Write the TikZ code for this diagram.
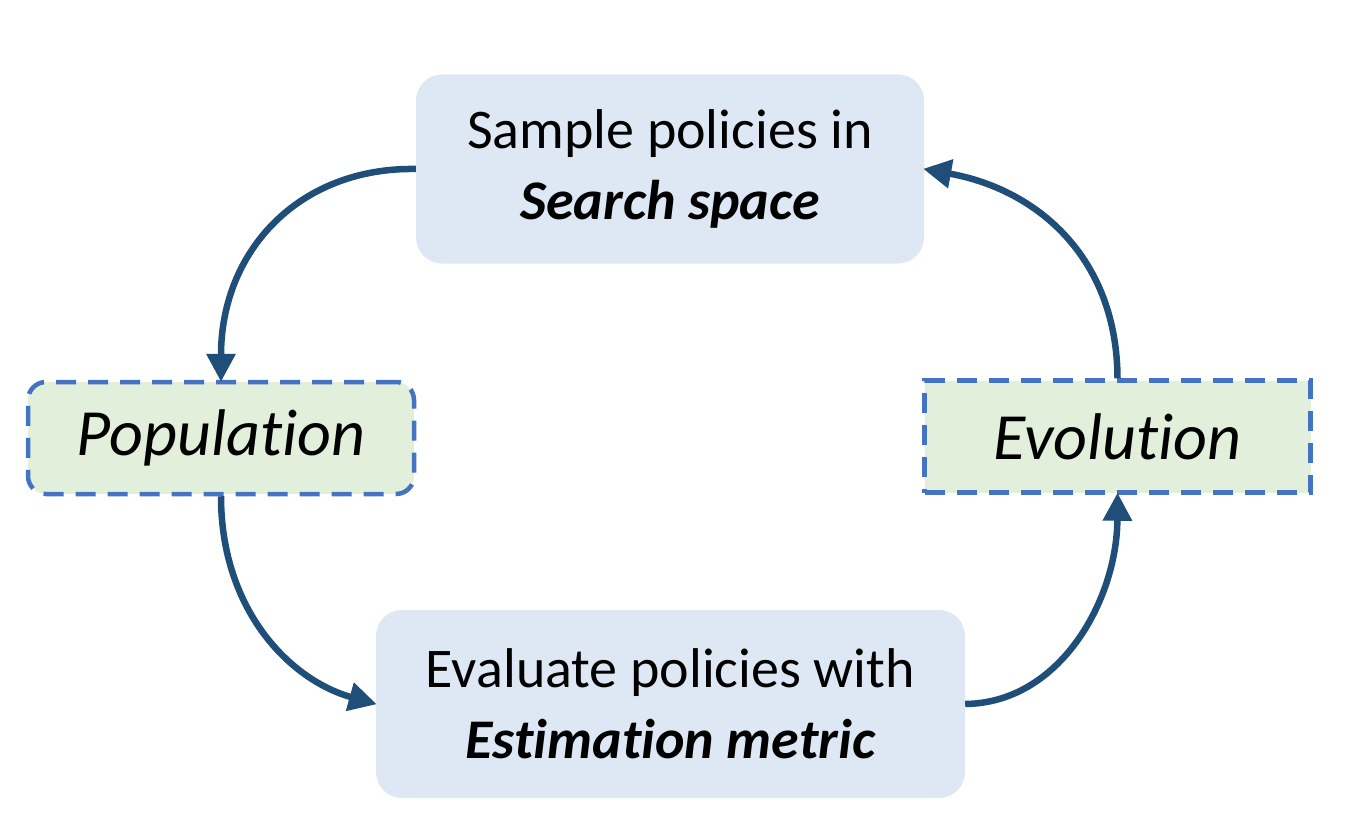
\documentclass[tikz,border=0pt]{standalone}
\usepackage{fontspec}
\setmainfont{Carlito}[RawFeature={-liga;-clig;-calt;-dlig}]
\usetikzlibrary{arrows.meta}

\definecolor{arrowblue}{HTML}{1F4E79}
\definecolor{dashblue}{HTML}{4472C4}
\definecolor{boxblue}{HTML}{DEE8F5}
\definecolor{boxgreen}{HTML}{E2EFDA}

\tikzset{
  stepbox/.style={fill=boxblue,rounded corners=26pt,align=center,
    font=\fontsize{56}{71}\selectfont,inner sep=0pt},
  poolbox/.style={fill=boxgreen,draw=dashblue,line width=4.5pt,
    dash pattern=on 20pt off 12pt,minimum width=386pt,minimum height=112pt,
    font=\fontsize{66}{70}\selectfont\itshape},
  flow/.style={arrowblue,line width=6.5pt,-{Triangle[length=28pt,width=28pt]}}
}

\begin{document}
\begin{tikzpicture}[x=1pt,y=-1pt]
\useasboundingbox (0,0) rectangle (1366,832);

\node[stepbox,minimum width=508pt,minimum height=189pt] (sample) at (670,169)
  {Sample policies in\\\textbf{\textit{Search space}}};
\node[stepbox,minimum width=589pt,minimum height=188pt] (evaluate) at (670.5,704)
  {Evaluate policies with\\\textbf{\textit{Estimation metric}}};
\node[poolbox,rounded corners=18pt] (population) at (221,438) {Population};
\node[poolbox] (evolution) at (1117.5,436.5) {Evolution};

% the loop
\draw[flow,shorten >=-2pt] (sample.west) .. controls (300,167) and (221,250) .. (population.north);
\draw[flow,shorten >=-1pt] (population.south) .. controls (221,610) and (290,680) .. (evaluate.west);
\draw[flow,shorten >=-2pt] (evaluate.east) .. controls (1060,703) and (1117,600) .. (evolution.south);
\draw[flow,shorten >=-1pt] (evolution.north) .. controls (1117,260) and (1040,190) .. (sample.east);
\end{tikzpicture}
\end{document}
